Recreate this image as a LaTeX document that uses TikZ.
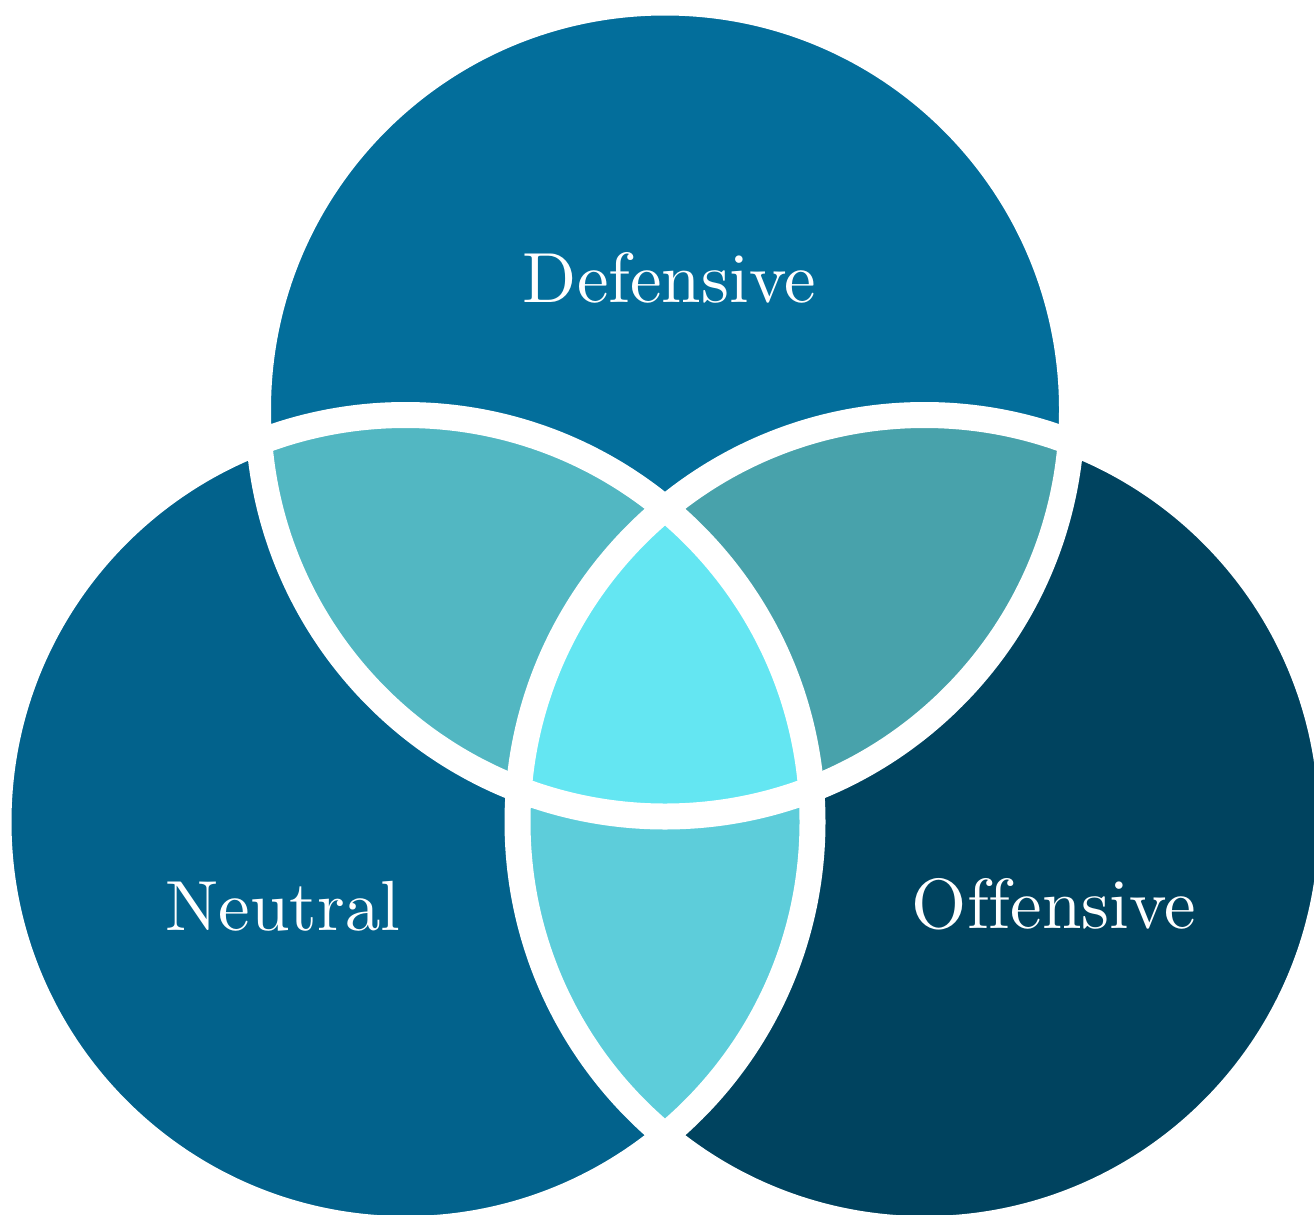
\documentclass[tikz,border=0pt]{standalone}
\usepackage{tikz}
\usetikzlibrary{positioning}
\usepackage{xcolor}

\definecolor{defblue}{HTML}{036E9B}
\definecolor{neublue}{HTML}{02628C}
\definecolor{offblue}{HTML}{00435F}
\definecolor{defneu}{HTML}{52B7C2}
\definecolor{defoff}{HTML}{48A2AB}
\definecolor{neuoff}{HTML}{5DCDDA}
\definecolor{allthree}{HTML}{64E6F2}

\begin{document}
\begin{tikzpicture}[
    ring/.style={draw=white, line width=0.26cm},
    setlabel/.style={text=white, anchor=base, scale=2.02, font=\normalsize}
]
\useasboundingbox (0,0) rectangle (13.14,12.14);
\def\rad{4.07}

\coordinate (defc) at (6.65, 8.045);
\coordinate (neuc) at (4.055, 3.92);
\coordinate (offc) at (9.245, 3.92);

% base discs
\fill[defblue] (defc) circle (\rad);
\fill[neublue] (neuc) circle (\rad);
\fill[offblue] (offc) circle (\rad);

% pairwise overlaps
\begin{scope}
    \clip (defc) circle (\rad);
    \fill[defneu] (neuc) circle (\rad);
    \fill[defoff] (offc) circle (\rad);
\end{scope}
\begin{scope}
    \clip (neuc) circle (\rad);
    \fill[neuoff] (offc) circle (\rad);
\end{scope}

% centre overlap
\begin{scope}
    \clip (defc) circle (\rad);
    \clip (neuc) circle (\rad);
    \fill[allthree] (offc) circle (\rad);
\end{scope}

% white rings
\draw[ring] (defc) circle (\rad);
\draw[ring] (neuc) circle (\rad);
\draw[ring] (offc) circle (\rad);

\node[setlabel] (deflabel) at (6.695, 9.12) {Defensive};
\node[setlabel] (neulabel) at (2.83, 2.84) {Neutral};
\node[setlabel] (offlabel) at (10.54, 2.86) {Of\kern0pt fensive};

\end{tikzpicture}
\end{document}
